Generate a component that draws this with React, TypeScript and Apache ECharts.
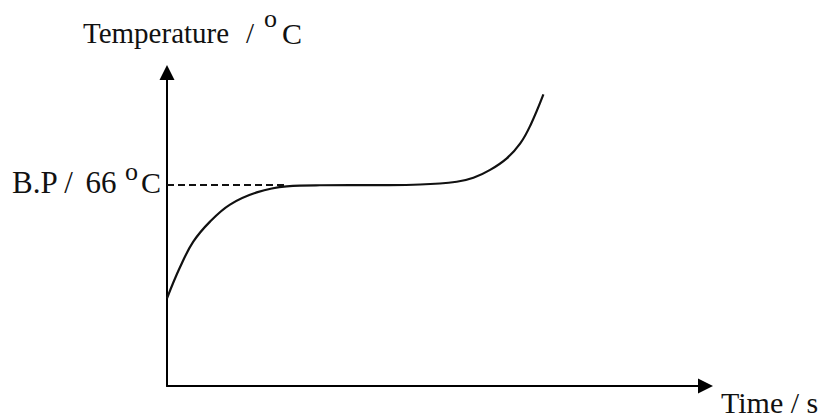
import React, { useEffect, useRef } from "react";
import * as echarts from "echarts";

// Heating curve (time in arbitrary units, temperature in °C)
const timeValues = [0, 2.41, 4.88, 7.99, 11.7, 16.66, 22.23, 28.4, 39.6, 47.0, 53.8, 56.9, 60.0, 63.1, 65.6, 67.5, 69.9];
const tempValues = [28.8, 39.0, 47.4, 54.0, 59.6, 63.6, 65.6, 65.95, 66.0, 66.2, 67.1, 68.4, 71.0, 74.8, 79.7, 85.7, 95.8];
const boilingPoint = 66;
const dashEndTime = 22.2;
const yTitle = "Temperature";
const xTitle = "Time / s";
const bpLabel = "B.P /";

const SERIF = "'Liberation Serif', 'Times New Roman', serif";

export default function App() {
  const ref = useRef<HTMLDivElement>(null);
  useEffect(() => {
    if (!ref.current) return;
    const chart = echarts.init(ref.current, null, { renderer: "svg" });
    const curve = timeValues.map((t, i) => [t, tempValues[i]]);
    const txt = (text: string, x: number, y: number, size: number) => ({
      type: "text",
      x,
      y,
      style: {
        text,
        font: `${size}px ${SERIF}`,
        fill: "#111",
        align: "left",
        verticalAlign: "middle",
      },
    });
    chart.setOption({
      animation: false,
      backgroundColor: "#fff",
      grid: { left: 167, right: 120.5, top: 72.5, bottom: 32 },
      xAxis: {
        type: "value",
        min: 0,
        max: 100,
        axisLine: {
          show: true,
          onZero: false,
          symbol: ["none", "triangle"],
          symbolSize: [15, 15],
          lineStyle: { color: "#000", width: 2 },
        },
        axisTick: { show: false },
        axisLabel: { show: false },
        splitLine: { show: false },
      },
      yAxis: {
        type: "value",
        min: 0,
        max: 103,
        axisLine: {
          show: true,
          onZero: false,
          symbol: ["none", "triangle"],
          symbolSize: [15, 15],
          lineStyle: { color: "#000", width: 2 },
        },
        axisTick: { show: false },
        axisLabel: { show: false },
        splitLine: { show: false },
      },
      series: [
        {
          type: "line",
          data: [[0, boilingPoint], [dashEndTime, boilingPoint]],
          showSymbol: false,
          lineStyle: { color: "#111", width: 2, type: [7, 4] },
          silent: true,
        },
        {
          type: "line",
          data: curve,
          smooth: 0.4,
          showSymbol: false,
          lineStyle: { color: "#111", width: 2.2 },
          silent: true,
        },
      ],
      graphic: [
        txt(yTitle, 83, 33.4, 29),
        txt("/", 246, 33.4, 29),
        txt("o", 264, 18.7, 26),
        txt("C", 282, 33.4, 30),
        txt(bpLabel, 12, 182.6, 31),
        txt(String(boilingPoint), 85.5, 182.6, 31),
        txt("o", 125, 171.7, 26),
        txt("C", 141, 182.6, 30),
        txt(xTitle, 721, 402, 30),
      ],
    });
    return () => chart.dispose();
  }, []);
  return (
    <div
      ref={ref}
      style={{ position: "fixed", left: 0, top: 0, width: 826, height: 418, background: "#fff" }}
    />
  );
}
